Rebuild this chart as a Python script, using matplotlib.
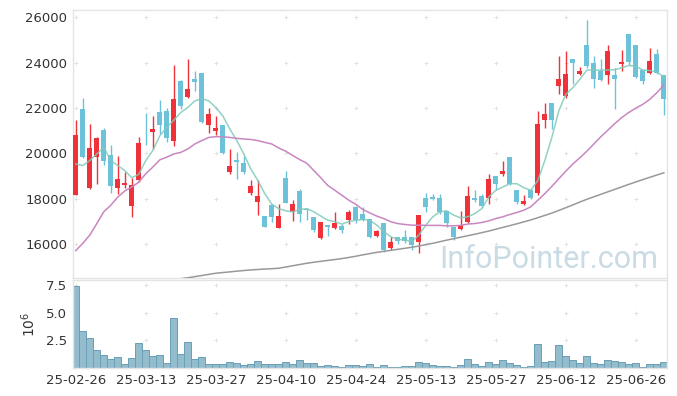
import numpy as np
import matplotlib
matplotlib.use("Agg")
import matplotlib.pyplot as plt

# daily candles (red = up, blue = down), index 0 = 25-02-26
opens = [18180, 21970, 18470, 19830, 21040, 19940, 18470, 18580, 17680, 18800,
         20960, 20960, 21830, 21870, 20530, 23180, 22500, 23260, 23530, 21240,
         20980, 21260, 19170, 19710, 19580, 18250, 17830, 17230, 17710, 16720,
         18920, 17420, 18320, 17550, 17170, 16280, 16820, 16720, 16790, 17050,
         17620, 17340, 17120, 16370, 16930, 15810, 16320, 16290, 16290, 16100,
         18040, 18090, 18040, 17460, 16760, 16670, 16980, 18040, 18100, 18030,
         18980, 19100, 19850, 18390, 17780, 18370, 18260, 21460, 22210, 22960,
         22530, 24180, 23480, 24760, 23960, 23650, 23450, 23450, 23940, 25260,
         24790, 23690, 23520, 24400, 23450]
highs = [21480, 22420, 21290, 20700, 21130, 20370, 19900, 19170, 18900, 20700,
         21770, 21650, 22350, 21990, 23880, 23230, 24180, 23620, 23540, 21990,
         21650, 21260, 20190, 20040, 19870, 18800, 18830, 17230, 17750, 17780,
         19200, 17960, 18440, 17560, 17170, 16980, 16820, 17390, 16880, 17490,
         17660, 17610, 17120, 16610, 16930, 16320, 16320, 16610, 16290, 17260,
         18260, 18220, 18220, 17460, 16760, 17460, 18540, 18370, 18220, 19070,
         19020, 19680, 19850, 18390, 18180, 18410, 21870, 22210, 22210, 24280,
         24500, 24180, 23800, 25860, 24280, 24180, 24790, 23770, 24570, 25260,
         24790, 23690, 24640, 24600, 23450]
lows = [18150, 19800, 18440, 18660, 19500, 18250, 18190, 18480, 17170, 18730,
        20380, 20190, 20850, 20480, 20310, 21940, 22450, 22750, 21330, 20890,
        20800, 19970, 19100, 18850, 19100, 18150, 17270, 16730, 16950, 16720,
        17810, 17020, 16980, 17050, 16540, 16230, 16370, 16670, 16470, 16860,
        16930, 17010, 16250, 16320, 15640, 15740, 15990, 16030, 15740, 15590,
        17420, 17960, 17340, 16760, 16180, 16610, 16930, 17870, 17640, 17750,
        18370, 18990, 18580, 17750, 17710, 18000, 18150, 21130, 21070, 22600,
        22450, 23040, 23450, 23770, 22890, 23180, 23040, 21940, 23620, 23910,
        23300, 23070, 23480, 23500, 21680]
closes = [20820, 19830, 20220, 20660, 19650, 18560, 18850, 18690, 18580, 20440,
          20920, 21050, 21260, 20660, 22400, 22090, 22820, 23150, 21400, 21720,
          21130, 20000, 19460, 19610, 19170, 18540, 18100, 16760, 17200, 17230,
          17810, 17780, 17340, 17520, 16610, 16950, 16750, 16910, 16610, 17400,
          17050, 17050, 16320, 16570, 15740, 16070, 16130, 16130, 15960, 17260,
          17640, 17990, 17390, 16930, 16290, 16820, 18100, 17930, 17680, 18850,
          18630, 19200, 18660, 17850, 17880, 18030, 21290, 21720, 21460, 23260,
          23480, 23960, 23650, 23870, 23260, 23230, 24500, 23290, 24020, 24020,
          23360, 23180, 24060, 23550, 22410]
# volume in millions of shares
volumes = [7.44, 3.38, 2.74, 1.59, 1.19, 0.82, 1.01, 0.37, 0.91, 2.29,
           1.65, 1.10, 1.19, 0.49, 4.48, 1.28, 2.38, 0.82, 1.01, 0.37,
           0.37, 0.37, 0.55, 0.46, 0.27, 0.37, 0.64, 0.37, 0.37, 0.37,
           0.55, 0.37, 0.73, 0.43, 0.46, 0.18, 0.27, 0.20, 0.12, 0.27,
           0.27, 0.18, 0.37, 0.09, 0.27, 0.09, 0.09, 0.18, 0.18, 0.55,
           0.46, 0.27, 0.18, 0.18, 0.09, 0.27, 0.82, 0.37, 0.18, 0.55,
           0.37, 0.73, 0.46, 0.27, 0.09, 0.18, 2.20, 0.55, 0.64, 2.10,
           1.10, 0.73, 0.46, 1.10, 0.46, 0.37, 0.73, 0.64, 0.55, 0.37,
           0.46, 0.09, 0.37, 0.37, 0.55]
# moving averages
ma5 = [19530, 19460, 19680, 19970, 20260, 19680, 19460, 19240, 18920, 19070,
       19680, 20120, 20770, 21140, 21460, 21800, 22020, 22310, 22410, 22310,
       22020, 21650, 21070, 20560, 19970, 19310, 18800, 18220, 17750, 17560,
       17460, 17420, 17520, 17560, 17420, 17230, 17050, 16980, 16880, 16980,
       17050, 17080, 17050, 16830, 16540, 16320, 16200, 16180, 16100, 16390,
       16830, 17200, 17420, 17460, 17270, 17150, 17200, 17340, 17560, 18070,
       18370, 18510, 18660, 18660, 18480, 18370, 18800, 19680, 20700, 21870,
       22600, 22890, 23260, 23670, 23670, 23670, 23670, 23690, 23770, 23870,
       23840, 23670, 23650, 23590, 23360]
ma20 = [15710, 16030, 16390, 16900, 17420, 17710, 18070, 18340, 18510, 18730,
        19100, 19390, 19710, 19830, 19970, 20040, 20190, 20410, 20560, 20700,
        20730, 20730, 20700, 20660, 20630, 20610, 20560, 20480, 20410, 20230,
        20090, 19900, 19720, 19560, 19240, 18920, 18580, 18370, 18150, 17930,
        17750, 17520, 17370, 17230, 17120, 16980, 16900, 16860, 16830, 16830,
        16820, 16820, 16820, 16800, 16800, 16820, 16880, 16900, 16950, 17020,
        17120, 17200, 17300, 17390, 17490, 17640, 17930, 18220, 18540, 18880,
        19210, 19530, 19800, 20090, 20410, 20730, 21020, 21310, 21580, 21800,
        21990, 22160, 22380, 22670, 23010]
ma60 = [np.nan] * 15 + [
        14470, 14510, 14560, 14610, 14660, 14710, 14740, 14770, 14800, 14830,
        14855, 14875, 14895, 14910, 14930, 14985, 15040, 15095, 15150, 15195,
        15235, 15275, 15315, 15355, 15405, 15460, 15520, 15575, 15630, 15675,
        15720, 15765, 15810, 15855, 15910, 15970, 16030, 16100, 16170, 16235,
        16300, 16365, 16430, 16500, 16570, 16650, 16730, 16810, 16890, 16975,
        17060, 17160, 17260, 17360, 17480, 17600, 17725, 17850, 17970, 18080,
        18190, 18300, 18410, 18520, 18630, 18735, 18840, 18940, 19040, 19140]

tick_pos = [0, 10, 20, 30, 40, 50, 60, 70, 80]
tick_labels = ["25-02-26", "25-03-13", "25-03-27", "25-04-10", "25-04-24",
               "25-05-13", "25-05-27", "25-06-12", "25-06-26"]
price_ticks = [16000, 18000, 20000, 22000, 24000, 26000]
vol_ticks = [2.5, 5.0, 7.5]

RED = "#ef3139"
BLUE = "#6cc3d9"
SPINE = "#e4e4e4"
TXT = "#333333"

fig = plt.figure(figsize=(6.77, 3.96), dpi=100)
ax = fig.add_axes([0.1078, 0.298, 0.8774, 0.6768])
axv = fig.add_axes([0.1078, 0.0707, 0.8774, 0.2222], sharex=ax)

x = np.arange(len(closes))
o = np.array(opens); c = np.array(closes)
up = c >= o
colors = np.where(up, RED, BLUE)

ax.vlines(x, lows, highs, colors=colors, linewidth=1.0, zorder=2)
body_bottom = np.minimum(o, c)
body_h = np.maximum(np.abs(c - o), 40)
ax.bar(x, body_h, bottom=body_bottom, width=0.72, color=colors, zorder=3)

ax.plot(x, ma5, color="#7fcabb", lw=1.1, alpha=0.85, zorder=4)
ax.plot(x, ma20, color="#c986c2", lw=1.1, zorder=4)
ax.plot(x, ma60, color="#999999", lw=1.1, zorder=4)

axv.bar(x, volumes, width=1.0, color="#93bccd", edgecolor="#6a9fb6", linewidth=0.7)

# light cross marks instead of grid lines
gx, gy = np.meshgrid(tick_pos, price_ticks)
ax.scatter(gx.ravel(), gy.ravel(), marker="+", s=10, color="#e2e2e2", lw=0.7, zorder=0)
gx, gy = np.meshgrid(tick_pos, vol_ticks)
axv.scatter(gx.ravel(), gy.ravel(), marker="+", s=10, color="#e2e2e2", lw=0.7, zorder=0)

ax.text(0.985, 0.038, "InfoPointer.com", transform=ax.transAxes, ha="right",
        va="baseline", fontsize=22, color="#c9dbe5", family="Roboto", zorder=1)

ax.set_xlim(-0.4, 84.45)
ax.set_ylim(14500, 26320)
ax.set_yticks(price_ticks)
ax.set_yticklabels([str(v) for v in price_ticks])
axv.set_ylim(0, 7.95)
axv.set_yticks(vol_ticks)
axv.set_yticklabels(["2.5", "5.0", "7.5"])
axv.set_xticks(tick_pos)
axv.set_xticklabels(tick_labels)
axv.set_ylabel("$10^6$", fontsize=10, color=TXT, labelpad=6)
ax.tick_params(axis="x", labelbottom=False)

for a in (ax, axv):
    a.tick_params(length=0, labelsize=9.5, colors=TXT, pad=4)
    for s in a.spines.values():
        s.set_color(SPINE)
        s.set_linewidth(1.0)

fig.savefig("out.png", dpi=100)
